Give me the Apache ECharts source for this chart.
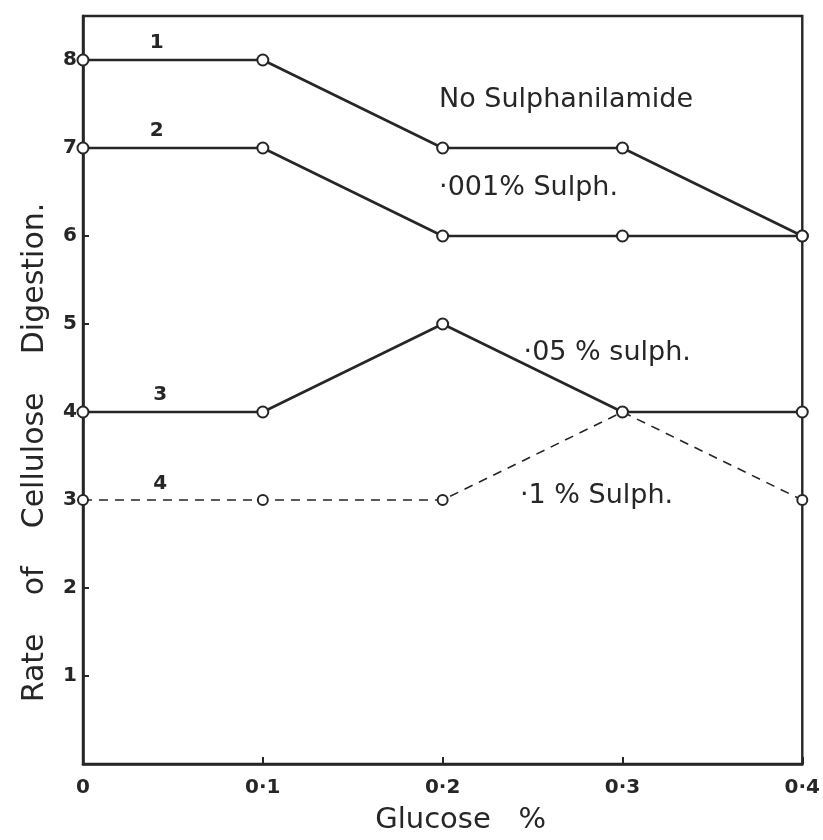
<!DOCTYPE html>
<html>
<head>
<meta charset="utf-8">
<script src="https://cdn.jsdelivr.net/npm/echarts@6/dist/echarts.min.js"></script>
<style>html,body{margin:0;padding:0;background:#fff;}#c{width:823px;height:840px;}</style>
</head>
<body>
<div id="c"></div>
<script>
var glucose = [0, 0.1, 0.2, 0.3, 0.4];
var noSulph = [8, 8, 7, 7, 6];
var sulph001 = [7, 7, 6, 6, 6];
var sulph05 = [4, 4, 5, 4, 4];
var sulph1 = [3, 3, 3, 4, 3];
var xTickLabels = ['0', '0·1', '0·2', '0·3', '0·4'];
var yTickLabels = ['1', '2', '3', '4', '5', '6', '7', '8'];
var seriesNames = ['No Sulphanilamide', '·001% Sulph.', '·05 % sulph.', '·1 % Sulph.'];
var curveNumbers = ['1', '2', '3', '4'];
// annotation anchors in data units [glucose, rate]
var nameAnchors = [[0.198, 7.55], [0.198, 6.54], [0.245, 4.67], [0.243, 3.04]];
var numberAnchors = [[0.041, 8.2], [0.041, 7.19], [0.043, 4.2], [0.043, 3.18]];

var INK = '#262626';
var FONT = '"DejaVu Sans", sans-serif';

function pairs(ys) { return glucose.map(function (x, i) { return [x, ys[i]]; }); }

function makeSeries(idx, ys, dashed) {
  return {
    name: seriesNames[idx],
    type: 'line',
    data: pairs(ys),
    symbol: 'emptyCircle',
    symbolSize: dashed ? 10 : 11,
    showAllSymbol: true,
    lineStyle: { color: INK, width: dashed ? 1.6 : 2.6, type: dashed ? [9, 7] : 'solid' },
    itemStyle: { color: INK, borderColor: INK, borderWidth: dashed ? 1.8 : 2 },
    emphasis: { disabled: true },
    z: dashed ? 2 : 3,
    markPoint: {
      symbol: 'circle',
      symbolSize: 0,
      silent: true,
      data: [
        { coord: nameAnchors[idx], value: seriesNames[idx],
          label: { show: true, position: 'right', distance: 0, formatter: seriesNames[idx],
                   color: INK, fontFamily: FONT, fontSize: 27 } },
        { coord: numberAnchors[idx], value: curveNumbers[idx],
          label: { show: true, position: 'inside', formatter: curveNumbers[idx],
                   color: INK, fontFamily: FONT, fontSize: 20, fontWeight: 'bold' } }
      ]
    }
  };
}

var chart = echarts.init(document.getElementById('c'), null, { renderer: 'canvas' });
chart.setOption({
  backgroundColor: '#fff',
  animation: false,
  grid: { left: 83, right: 18, top: 16, bottom: 70, show: true, borderColor: INK, borderWidth: 2.4, backgroundColor: 'transparent' },
  xAxis: {
    type: 'value', min: 0, max: 0.4, interval: 0.1,
    name: 'Glucose   %', nameLocation: 'middle', nameGap: 42,
    nameTextStyle: { color: INK, fontFamily: FONT, fontSize: 29, padding: [0, 0, 0, 36] },
    axisLine: { show: true, lineStyle: { color: INK, width: 2.6 } },
    axisTick: { show: true, inside: true, length: 7, lineStyle: { color: INK, width: 2 } },
    axisLabel: {
      margin: 14, color: INK, fontFamily: FONT, fontSize: 20, fontWeight: 'bold',
      formatter: function (v) { var i = Math.round(v * 10); return xTickLabels[i] || ''; }
    },
    splitLine: { show: false }
  },
  yAxis: {
    type: 'value', min: 0, max: 8.5, interval: 1,
    name: 'Rate    of    Cellulose    Digestion.', nameLocation: 'middle', nameGap: 33, nameRotate: 90,
    nameTextStyle: { color: INK, fontFamily: FONT, fontSize: 30, padding: [0, 125, 0, 0] },
    axisLine: { show: true, lineStyle: { color: INK, width: 2.6 } },
    axisTick: { show: true, inside: true, length: 6, lineStyle: { color: INK, width: 2 } },
    axisLabel: {
      margin: 6, color: INK, fontFamily: FONT, fontSize: 20, fontWeight: 'bold',
      formatter: function (v) {
        if (Math.abs(v - Math.round(v)) > 1e-6) return '';
        var i = Math.round(v);
        return i >= 1 ? (yTickLabels[i - 1] || '') : '';
      }
    },
    splitLine: { show: false }
  },
  series: [
    makeSeries(0, noSulph, false),
    makeSeries(1, sulph001, false),
    makeSeries(2, sulph05, false),
    makeSeries(3, sulph1, true)
  ]
});
</script>
</body>
</html>
